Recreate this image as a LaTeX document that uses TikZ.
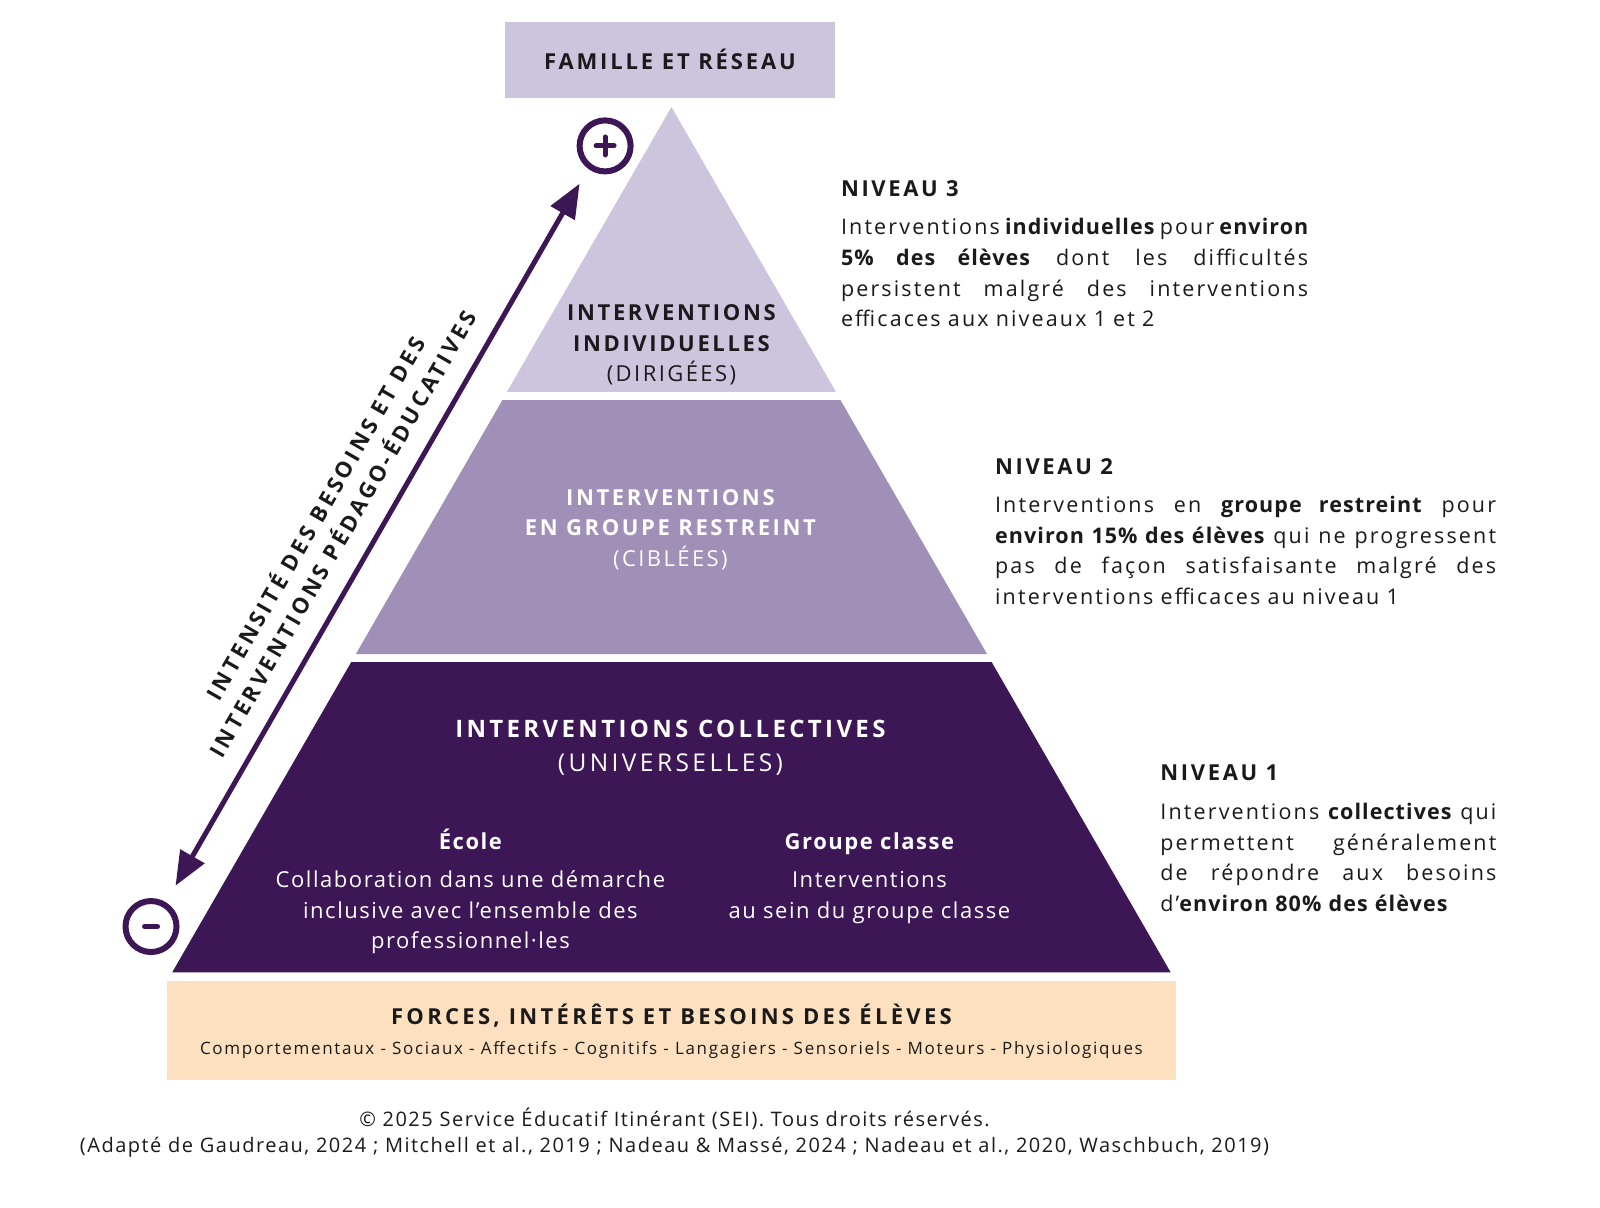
\documentclass[tikz,border=0pt]{standalone}
\usepackage{fontspec}
\setmainfont{Open Sans}[LetterSpace=7]
\usetikzlibrary{arrows.meta}
\definecolor{lavlight}{HTML}{CDC4DE}
\definecolor{lavmid}{HTML}{A08FB6}
\definecolor{plum}{HTML}{3D1655}
\definecolor{peach}{HTML}{FDE0BF}
\definecolor{ink}{HTML}{1A1A1A}
\newcommand\hl[1]{{\bfseries\addfontfeature{LetterSpace=5}#1}}
\newcommand\fullline[1]{{\spaceskip=0pt\xspaceskip=0pt\makebox[\linewidth][s]{#1}}}
\newcommand\capsfont[1]{\fontsize{#1}{30.6}\selectfont\bfseries\addfontfeature{LetterSpace=12}}
\tikzset{
  tierlabel/.style={align=center,inner sep=0pt,font=\fontsize{22}{30.6}\selectfont},
  capslabel/.style={align=center,inner sep=0pt,text=ink,font=\capsfont{22}},
  niveautitle/.style={anchor=base west,inner sep=0pt,text=ink,font=\capsfont{22}},
  niveaupara/.style={anchor=north west,inner sep=0pt,align=left,text=ink,font=\fontsize{21.5}{30.6}\selectfont\addfontfeature{LetterSpace=10}},
  signcircle/.style={circle,draw=plum,line width=6pt,minimum size=51pt,inner sep=0pt},
}
\begin{document}
\begin{tikzpicture}[x=1.0204pt,y=-1.0204pt,line cap=round,line join=round]
	\useasboundingbox[fill=white] (0,0) rectangle (1568,1183);
	% top box
	\fill[lavlight] (495,22) rectangle (818,96);
	\node[capslabel,font=\capsfont{22}\addfontfeature{LetterSpace=13}] (famille) at (656.5,58.5) {FAMILLE ET RÉSEAU};
	% pyramid tiers
	\fill[lavlight] (658,105) -- (819.2,384) -- (496.8,384) -- cycle;
	\fill[lavmid] (492.4,392) -- (823.6,392) -- (967.3,641) -- (348.7,641) -- cycle;
	\fill[plum] (344.1,649) -- (971.9,649) -- (1147.3,953) -- (168.7,953) -- cycle;
	% base box
	\fill[peach] (164,961) rectangle (1152,1058);
	% level 3
	\node[capslabel] (dirigees) at (658,338) {INTERVENTIONS\\ INDIVIDUELLES\\ \mdseries\addfontfeature{LetterSpace=11}(DIRIGÉES)};
	% level 2
	\node[capslabel,text=white] (ciblees) at (657,519) {INTERVENTIONS\\ EN GROUPE RESTREINT\\ \mdseries\addfontfeature{LetterSpace=11}(CIBLÉES)};
	% level 1
	\node[capslabel,text=white,font=\fontsize{24}{33.5}\selectfont\bfseries\addfontfeature{LetterSpace=14}] (universelles) at (657,733) {INTERVENTIONS COLLECTIVES\\ \mdseries\fontsize{24.5}{33.5}\selectfont(UNIVERSELLES)};
	\node[tierlabel,text=white] (ecole) at (461,873.5) {\bfseries École\\[8pt] Collaboration dans une démarche\\ inclusive avec l’ensemble des\\ professionnel·les};
	\node[tierlabel,text=white,anchor=north] (classe) at (852,815.5) {\bfseries Groupe classe\\[8pt] Interventions\\ au sein du groupe classe};
	\node[capslabel,font=\capsfont{22}\addfontfeature{LetterSpace=15}] (forces) at (658,995) {FORCES, INTÉRÊTS ET BESOINS DES ÉLÈVES};
	\node[tierlabel,text=ink,font=\fontsize{17}{20}\selectfont\addfontfeature{LetterSpace=10}] (domaines) at (658,1029) {Comportementaux - Sociaux - Affectifs - Cognitifs - Langagiers - Sensoriels - Moteurs - Physiologiques};
	% right descriptions
	\node[niveautitle] (n3) at (824,193) {NIVEAU 3};
	\node[niveaupara,text width=467pt] (n3text) at (824,214) {\fullline{Interventions \hl{individuelles} pour \hl{environ}}\\ \fullline{\hl{5\% des élèves} dont les difficultés}\\ \fullline{persistent malgré des interventions}\\ efficaces aux niveaux 1 et 2};
	\node[niveautitle] (n2) at (975,465) {NIVEAU 2};
	\node[niveaupara,text width=501pt] (n2text) at (975,486) {\fullline{Interventions en \hl{groupe restreint} pour}\\ \fullline{\hl{environ 15\% des élèves} qui ne progressent}\\ \fullline{pas de façon satisfaisante malgré des}\\ interventions efficaces au niveau 1};
	\node[niveautitle] (n1) at (1137,765) {NIVEAU 1};
	\node[niveaupara,text width=336pt] (n1text) at (1137,787) {\fullline{Interventions \hl{collectives} qui}\\ \fullline{permettent généralement}\\ \fullline{de répondre aux besoins}\\ d’\hl{environ 80\% des élèves}};
	% intensity arrow
	\node[signcircle] (plus) at (593,143) {};
	\draw[plum,line width=5pt] ([xshift=-9pt]plus.center) -- ([xshift=9pt]plus.center) ([yshift=-9pt]plus.center) -- ([yshift=9pt]plus.center);
	\node[signcircle] (moins) at (148,908) {};
	\draw[plum,line width=5pt] ([xshift=-6.5pt]moins.center) -- ([xshift=6.5pt]moins.center);
	\coordinate (bas) at (172,868);
	\coordinate (haut) at (568,180);
	\draw[plum,line width=5pt,line cap=butt,{Triangle[length=34pt,width=27pt]}-{Triangle[length=34pt,width=27pt]}] (bas) -- (haut);
	\node[capslabel,rotate=60,font=\fontsize{22}{31}\selectfont\bfseries\addfontfeature{LetterSpace=15.5}] (intensite) at (321,515) {INTENSITÉ DES BESOINS ET DES\\ INTERVENTIONS PÉDAGO-ÉDUCATIVES};
	% credits
	\node[tierlabel,text=ink,font=\fontsize{20}{26.5}\selectfont\addfontfeature{LetterSpace=7.5}] (credits) at (661,1110) {© 2025 Service Éducatif Itinérant (SEI). Tous droits réservés.\\ (Adapté de Gaudreau, 2024 ; Mitchell et al., 2019 ; Nadeau \& Massé, 2024 ; Nadeau et al., 2020, Waschbuch, 2019)};
\end{tikzpicture}
\end{document}
